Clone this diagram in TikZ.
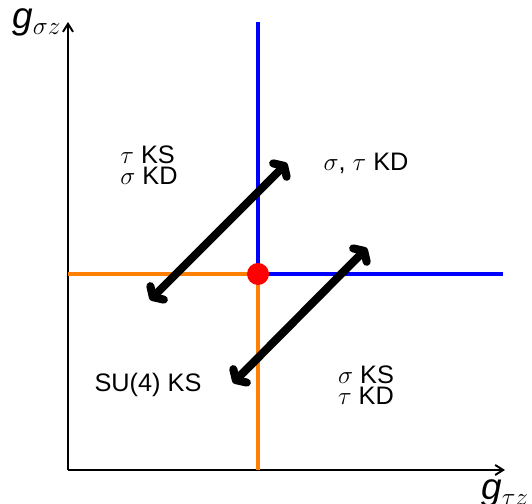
\documentclass[tikz,border=0pt]{standalone}
\usepackage{fontspec}
\setmainfont{Liberation Sans}
\usetikzlibrary{arrows.meta}

\definecolor{lineblue}{RGB}{0,0,255}
\definecolor{lineorange}{RGB}{255,128,0}

\begin{document}
\begin{tikzpicture}[
  font=\Large,
  axis/.style={line width=1.1pt, -{Straight Barb[length=0.16cm, width=0.2cm]}},
  bluebound/.style={draw=lineblue, line width=2.2pt},
  orangebound/.style={draw=lineorange, line width=2.2pt},
  flow/.style={line width=4.6pt, line cap=round,
    {Straight Barb[round, length=0.12cm, width=0.38cm]}-{Straight Barb[round, length=0.12cm, width=0.38cm]}},
  phase/.style={align=left, inner sep=1pt, font=\fontsize{14.4}{11.6}\selectfont},
  axlabel/.style={anchor=base west, inner sep=0pt, font=\fontsize{21}{24}\selectfont}
]
\useasboundingbox (0,0) rectangle (10.64,10.08);

% axes
\coordinate (origin) at (1.36,0.68);
\coordinate (ytop) at (1.36,9.64);
\coordinate (xend) at (10.10,0.68);
\draw[axis] (origin) -- (ytop);
\draw[axis] (origin) -- (xend);
\node[axlabel] (ylab) at (0.24,9.50) {\textit{g}$_{\sigma z}$};
\node[axlabel] (xlab) at (9.62,0.08) {\textit{g}$_{\tau z}$};

% phase boundaries
\coordinate (crit) at (5.16,4.60);
\coordinate (btop) at (5.16,9.64);
\coordinate (bright) at (10.06,4.60);
\coordinate (oleft) at (1.36,4.60);
\coordinate (obottom) at (5.16,0.68);
\draw[orangebound] (oleft) -- (crit);
\draw[orangebound] (crit) -- (obottom);
\draw[bluebound] (btop) -- (crit);
\draw[bluebound] (crit) -- (bright);
\node[circle, fill=red, inner sep=0pt, minimum size=0.44cm] (dot) at (crit) {};

% flows
\coordinate (f1a) at (3.00,4.08);
\coordinate (f1b) at (5.74,6.82);
\coordinate (f2a) at (4.66,2.42);
\coordinate (f2b) at (7.34,5.12);
\draw[flow] (f1a) -- (f1b);
\draw[flow] (f2a) -- (f2b);

% phases
\node[phase] (tl) at (2.98,6.78) {$\tau$ KS\\$\sigma$ KD};
\node[phase] (tr) at (7.32,6.82) {$\sigma$, $\tau$ KD};
\node[phase] (bl) at (2.96,2.38) {SU(4) KS};
\node[phase] (br) at (7.32,2.38) {$\sigma$ KS\\$\tau$ KD};
\end{tikzpicture}
\end{document}
